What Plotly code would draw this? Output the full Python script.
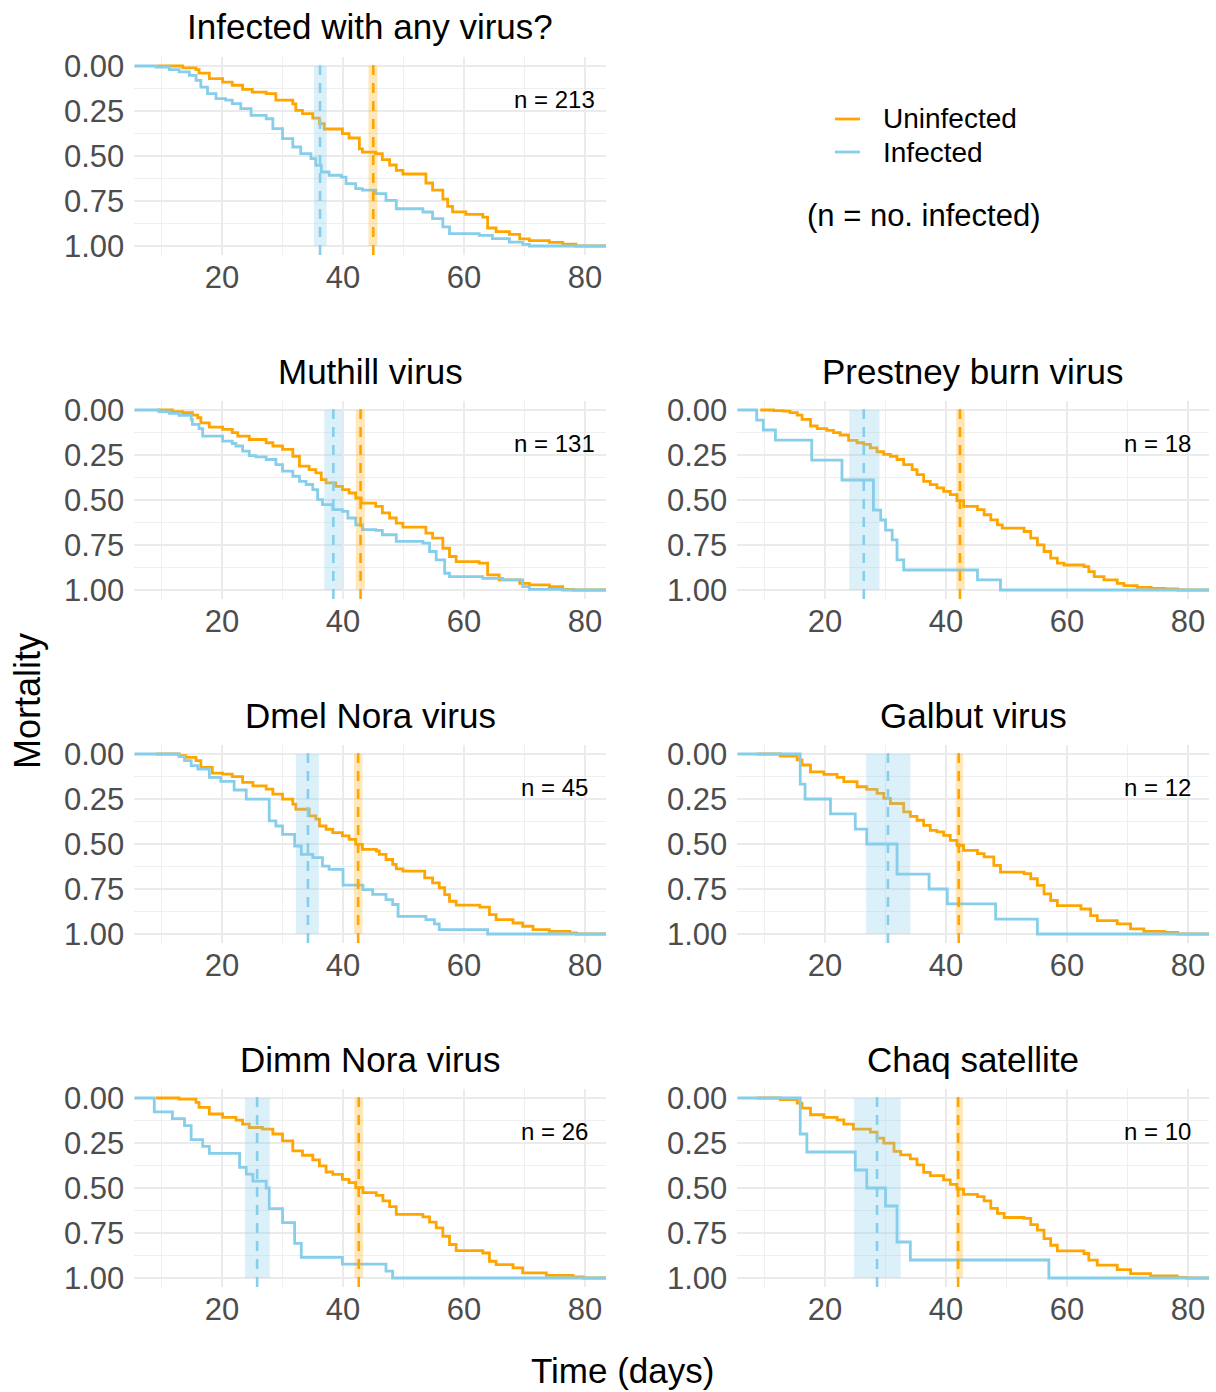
import plotly.graph_objects as go

# ---------------------------------------------------------------------------
# Kaplan-Meier style mortality curves (step functions), time in days
# ---------------------------------------------------------------------------
panel_titles = ["Infected with any virus?", "Muthill virus", "Prestney burn virus",
                "Dmel Nora virus", "Galbut virus", "Dimm Nora virus", "Chaq satellite"]
n_infected = [213, 131, 18, 45, 12, 26, 10]

# Infected with any virus?
any_unf_t = [9.3, 13.5, 15.7, 16.2, 17.9, 20.1, 21.7, 23.4, 25.0, 27.3, 28.9, 31.7, 32.2, 33.3, 35.0,
             36.1, 36.9, 39.9, 41.0, 42.7, 43.2, 45.4, 46.5, 47.7, 48.8, 49.9, 53.7, 54.8, 56.5, 57.3,
             58.1, 60.3, 63.1, 63.9, 65.3, 67.5, 69.2, 70.8, 74.1, 76.3, 78.5, 83.5]
any_unf_m = [0, 0.01, 0.02, 0.04, 0.07, 0.09, 0.107, 0.13, 0.145, 0.154, 0.19, 0.21, 0.246, 0.265, 0.29,
             0.32, 0.35, 0.376, 0.40, 0.46, 0.478, 0.487, 0.52, 0.55, 0.58, 0.60, 0.65, 0.69, 0.74, 0.78,
             0.81, 0.824, 0.84, 0.90, 0.92, 0.935, 0.96, 0.97, 0.98, 0.99, 1.0, 1.0]
any_inf_t = [5.5, 9.1, 11.3, 12.9, 14.6, 15.7, 16.5, 17.6, 19.0, 20.6, 21.7, 23.1, 24.8, 27.3, 28.4,
             30.0, 31.7, 33.0, 34.7, 35.5, 36.4, 37.7, 39.7, 40.5, 42.1, 43.2, 45.4, 47.1, 48.8, 53.2,
             54.8, 56.5, 57.6, 62.5, 64.7, 67.5, 69.7, 70.8, 83.5]
any_inf_m = [0, 0.006, 0.02, 0.033, 0.052, 0.08, 0.117, 0.154, 0.181, 0.19, 0.209, 0.237, 0.274, 0.293,
             0.348, 0.404, 0.45, 0.487, 0.515, 0.552, 0.589, 0.607, 0.617, 0.654, 0.681, 0.69, 0.709,
             0.746, 0.793, 0.811, 0.848, 0.894, 0.931, 0.941, 0.959, 0.978, 0.991, 1.0, 1.0]

# Muthill virus
mut_unf_t = [9.3, 11.8, 13.5, 15.1, 16.0, 16.5, 17.9, 20.1, 21.7, 22.6, 24.5, 27.3, 28.4, 30.0, 31.7,
             32.8, 34.4, 35.5, 36.4, 37.2, 38.8, 39.9, 41.0, 42.1, 43.0, 45.4, 46.5, 47.7, 48.8, 49.9,
             53.7, 54.8, 56.5, 57.6, 58.7, 62.5, 63.9, 65.8, 69.2, 70.8, 74.1, 76.3, 78.0, 83.5]
mut_unf_m = [0, 0.009, 0.015, 0.028, 0.043, 0.071, 0.095, 0.108, 0.126, 0.145, 0.164, 0.182, 0.2, 0.219,
             0.257, 0.312, 0.331, 0.349, 0.387, 0.405, 0.424, 0.442, 0.461, 0.489, 0.517, 0.535, 0.572,
             0.6, 0.628, 0.651, 0.684, 0.712, 0.768, 0.814, 0.842, 0.851, 0.916, 0.944, 0.963, 0.972,
             0.981, 0.996, 1.0, 1.0]
mut_inf_t = [5.5, 9.6, 11.3, 12.9, 14.9, 15.1, 16.2, 16.8, 20.1, 21.7, 22.3, 23.4, 24.5, 25.6, 27.3,
             28.9, 30.0, 31.7, 32.8, 33.9, 35.0, 35.8, 36.6, 38.3, 39.9, 40.8, 42.1, 43.2, 45.4, 46.5,
             48.8, 53.2, 54.3, 55.4, 56.8, 57.6, 63.1, 66.4, 69.7, 70.8, 76.3, 83.5]
mut_inf_m = [0, 0.009, 0.019, 0.030, 0.052, 0.08, 0.104, 0.145, 0.173, 0.186, 0.2, 0.229, 0.253, 0.26,
             0.275, 0.303, 0.34, 0.368, 0.396, 0.414, 0.442, 0.498, 0.526, 0.554, 0.563, 0.6, 0.638,
             0.665, 0.669, 0.693, 0.73, 0.74, 0.786, 0.833, 0.907, 0.926, 0.935, 0.944, 0.981, 0.996,
             1.0, 1.0]

# Prestney burn virus
pre_unf_t = [9.3, 11.5, 13.1, 14.2, 15.4, 16.2, 17.6, 18.7, 20.3, 21.4, 22.5, 23.9, 25.3, 26.4, 27.5,
             28.6, 29.7, 30.8, 31.9, 33.0, 34.4, 35.2, 36.3, 37.4, 38.5, 39.6, 40.7, 41.8, 42.9, 45.2,
             46.3, 47.4, 48.5, 49.3, 52.9, 54.0, 55.1, 56.2, 57.3, 58.4, 59.5, 62.8, 63.6, 64.5, 66.1,
             68.3, 69.4, 71.6, 73.9, 76.1, 78.3, 83.5]
pre_unf_m = [0, 0.004, 0.006, 0.015, 0.028, 0.052, 0.089, 0.104, 0.113, 0.126, 0.139, 0.169, 0.182,
             0.191, 0.21, 0.232, 0.247, 0.257, 0.275, 0.303, 0.331, 0.359, 0.396, 0.415, 0.433, 0.452,
             0.47, 0.504, 0.535, 0.554, 0.582, 0.61, 0.638, 0.656, 0.675, 0.712, 0.749, 0.786, 0.823,
             0.851, 0.861, 0.87, 0.898, 0.926, 0.944, 0.963, 0.976, 0.985, 0.991, 0.994, 1.0, 1.0]
pre_inf_t = [5.5, 8.7, 9.8, 11.8, 17.8, 22.8, 28.0, 29.2, 30.0, 31.1, 31.9, 33.0, 45.2, 49.0, 83.5]
pre_inf_m = [0, 0.056, 0.111, 0.167, 0.278, 0.389, 0.556, 0.611, 0.667, 0.722, 0.833, 0.889, 0.944,
             1.0, 1.0]

# Dmel Nora virus
dme_unf_t = [9.1, 12.9, 14.0, 15.7, 16.5, 18.4, 20.1, 21.7, 23.4, 25.1, 27.3, 28.4, 30.0, 31.7, 32.2,
             34.4, 35.5, 36.1, 37.2, 38.3, 39.9, 41.0, 42.1, 43.2, 45.5, 46.0, 47.1, 48.2, 48.8, 49.9,
             53.5, 54.8, 55.9, 56.8, 57.6, 58.7, 62.6, 64.2, 65.3, 68.1, 69.7, 71.4, 74.1, 77.5, 78.6,
             83.5]
dme_unf_m = [0, 0.009, 0.019, 0.037, 0.074, 0.106, 0.112, 0.126, 0.158, 0.177, 0.195, 0.223, 0.251,
             0.279, 0.307, 0.344, 0.362, 0.4, 0.418, 0.437, 0.455, 0.474, 0.502, 0.53, 0.539, 0.558,
             0.586, 0.613, 0.638, 0.651, 0.688, 0.716, 0.743, 0.781, 0.818, 0.84, 0.851, 0.892, 0.92,
             0.939, 0.957, 0.976, 0.985, 0.994, 1.0, 1.0]
dme_inf_t = [5.5, 12.9, 13.8, 14.9, 16.0, 17.9, 19.8, 22.0, 24.0, 27.8, 28.9, 30.0, 32.0, 33.1, 35.0,
             36.6, 37.7, 40.0, 43.3, 44.9, 47.1, 48.2, 49.1, 53.7, 55.1, 55.9, 63.9, 83.5]
dme_inf_m = [0, 0.015, 0.037, 0.065, 0.084, 0.13, 0.152, 0.2, 0.251, 0.372, 0.4, 0.446, 0.511, 0.558,
             0.576, 0.623, 0.641, 0.729, 0.753, 0.78, 0.809, 0.836, 0.902, 0.92, 0.944, 0.976, 1.0, 1.0]

# Galbut virus
gal_unf_t = [8.7, 12.6, 15.4, 16.2, 17.6, 19.8, 22.0, 23.1, 25.3, 26.9, 28.6, 29.7, 30.8, 33.0, 34.1,
             35.2, 36.3, 37.4, 38.5, 39.6, 40.7, 41.8, 42.9, 45.2, 46.3, 47.9, 49.0, 52.9, 54.0, 55.1,
             56.2, 57.3, 58.4, 62.3, 63.9, 65.0, 68.3, 70.5, 72.7, 76.1, 78.3, 83.5]
gal_unf_m = [0, 0.011, 0.033, 0.061, 0.099, 0.113, 0.13, 0.154, 0.182, 0.197, 0.219, 0.247, 0.275,
             0.322, 0.346, 0.368, 0.396, 0.424, 0.433, 0.452, 0.48, 0.507, 0.535, 0.554, 0.572, 0.619,
             0.656, 0.665, 0.693, 0.73, 0.777, 0.814, 0.842, 0.861, 0.898, 0.926, 0.944, 0.972, 0.985,
             0.991, 1.0, 1.0]
gal_inf_t = [5.5, 15.9, 16.7, 20.9, 25.0, 26.9, 31.9, 37.2, 40.2, 48.2, 55.1, 83.5]
gal_inf_m = [0, 0.167, 0.25, 0.333, 0.417, 0.5, 0.667, 0.75, 0.833, 0.917, 1.0, 1.0]

# Dimm Nora virus
dim_unf_t = [9.1, 12.9, 15.7, 16.2, 17.9, 20.1, 22.3, 23.4, 24.5, 26.7, 28.4, 30.0, 31.7, 33.3, 35.0,
             36.1, 37.2, 38.3, 39.9, 41.0, 42.1, 43.3, 45.5, 46.6, 47.7, 48.8, 53.2, 54.3, 55.4, 56.5,
             57.6, 58.7, 63.1, 64.2, 65.3, 68.1, 69.7, 73.6, 78.0, 79.7, 83.5]
dim_unf_m = [0, 0.006, 0.024, 0.052, 0.089, 0.108, 0.123, 0.145, 0.164, 0.173, 0.2, 0.238, 0.294,
             0.318, 0.344, 0.377, 0.411, 0.424, 0.452, 0.47, 0.498, 0.526, 0.541, 0.572, 0.604, 0.647,
             0.66, 0.69, 0.721, 0.768, 0.814, 0.848, 0.861, 0.907, 0.926, 0.944, 0.972, 0.985, 0.994,
             1.0, 1.0]
dim_inf_t = [5.5, 8.8, 11.8, 13.8, 14.9, 16.8, 17.9, 22.9, 24.0, 25.1, 27.3, 27.8, 30.0, 32.0, 33.1,
             39.9, 47.1, 48.2, 83.5]
dim_inf_m = [0, 0.077, 0.115, 0.154, 0.231, 0.269, 0.308, 0.385, 0.423, 0.462, 0.5, 0.615, 0.692,
             0.808, 0.885, 0.923, 0.962, 1.0, 1.0]

# Chaq satellite
chq_unf_t = [8.7, 12.6, 15.4, 16.2, 17.6, 19.8, 22.0, 23.1, 24.7, 27.5, 28.6, 29.7, 31.4, 32.5, 34.1,
             35.2, 36.3, 37.4, 39.6, 40.7, 41.8, 42.9, 45.2, 46.3, 47.4, 48.5, 49.6, 52.9, 54.0, 55.1,
             56.2, 57.3, 58.4, 62.8, 63.6, 65.0, 68.3, 70.5, 73.8, 78.2, 79.8, 83.5]
chq_unf_m = [0, 0.009, 0.028, 0.056, 0.093, 0.108, 0.121, 0.145, 0.173, 0.19, 0.223, 0.251, 0.297,
             0.316, 0.338, 0.372, 0.413, 0.431, 0.455, 0.48, 0.506, 0.535, 0.548, 0.572, 0.613, 0.641,
             0.664, 0.669, 0.703, 0.734, 0.781, 0.818, 0.849, 0.864, 0.901, 0.929, 0.954, 0.976, 0.989,
             0.996, 1.0, 1.0]
chq_inf_t = [5.5, 15.9, 17.0, 25.0, 26.9, 30.0, 31.9, 34.1, 57.0, 83.5]
chq_inf_m = [0, 0.2, 0.3, 0.4, 0.5, 0.6, 0.8, 0.9, 1.0, 1.0]

# Median time to death with confidence interval (days), per panel
inf_median = [36.2, 38.4, 26.4, 34.2, 30.4, 25.8, 28.6]
inf_lower = [35.2, 36.9, 24.0, 32.2, 26.8, 23.8, 24.8]
inf_upper = [37.3, 39.9, 29.0, 36.0, 34.1, 27.9, 32.5]
unf_median = [45.0, 42.9, 42.3, 42.5, 42.1, 42.6, 42.0]
unf_lower = [44.2, 42.1, 41.7, 41.8, 41.6, 41.9, 41.6]
unf_upper = [45.7, 43.6, 43.1, 43.2, 42.8, 43.3, 42.8]

x_ticks = [20, 40, 60, 80]
y_ticks = [0, 0.25, 0.5, 0.75, 1.0]
y_tick_text = ["0.00", "0.25", "0.50", "0.75", "1.00"]
legend_labels = ["Uninfected", "Infected"]

curves = [
    (any_unf_t, any_unf_m, any_inf_t, any_inf_m),
    (mut_unf_t, mut_unf_m, mut_inf_t, mut_inf_m),
    (pre_unf_t, pre_unf_m, pre_inf_t, pre_inf_m),
    (dme_unf_t, dme_unf_m, dme_inf_t, dme_inf_m),
    (gal_unf_t, gal_unf_m, gal_inf_t, gal_inf_m),
    (dim_unf_t, dim_unf_m, dim_inf_t, dim_inf_m),
    (chq_unf_t, chq_unf_m, chq_inf_t, chq_inf_m),
]

# ---------------------------------------------------------------------------
# Layout geometry (pixels on a 1216 x 1392 canvas)
# ---------------------------------------------------------------------------
W, H = 1216, 1392
ORANGE = "#FFA500"
BLUE = "#87CEEB"
FONT = "Liberation Sans, Arial, sans-serif"
LW = 2.8

col_x = {"L": (134.3, 606.2), "R": (737.3, 1209.2)}
row_y = [(57, 255), (401, 599), (745, 943), (1089, 1287)]
panel_pos = [(0, "L"), (1, "L"), (1, "R"), (2, "L"), (2, "R"), (3, "L"), (3, "R")]

fig = go.Figure()
shapes, annotations = [], []
layout_axes = {}

for k, ((unf_t, unf_m, inf_t, inf_m), (row, col)) in enumerate(zip(curves, panel_pos)):
    idx = "" if k == 0 else str(k + 1)
    xa, ya = "x" + idx, "y" + idx
    x0, x1 = col_x[col]
    ytop, ybot = row_y[row]

    fig.add_trace(go.Scatter(
        x=unf_t, y=unf_m, mode="lines", name=legend_labels[0], legendgroup="unf",
        showlegend=False, line=dict(color=ORANGE, width=LW, shape="hv"),
        xaxis=xa, yaxis=ya, hoverinfo="skip"))
    fig.add_trace(go.Scatter(
        x=inf_t, y=inf_m, mode="lines", name=legend_labels[1], legendgroup="inf",
        showlegend=False, line=dict(color=BLUE, width=LW, shape="hv"),
        xaxis=xa, yaxis=ya, hoverinfo="skip"))

    # confidence bands and median lines
    for lo, hi, med, col_rgb, col_line in [
        (inf_lower[k], inf_upper[k], inf_median[k], "rgba(135,206,235,0.30)", BLUE),
        (unf_lower[k], unf_upper[k], unf_median[k], "rgba(255,165,0,0.27)", ORANGE),
    ]:
        shapes.append(dict(type="rect", xref=xa, yref=ya, x0=lo, x1=hi, y0=0, y1=1,
                           fillcolor=col_rgb, line=dict(width=0), layer="above"))
        shapes.append(dict(type="line", xref=xa, yref=ya + " domain", x0=med, x1=med, y0=0, y1=1,
                           line=dict(color=col_line, width=2.6, dash="10px,8px"), layer="above"))

    axis_common = dict(showline=False, zeroline=False, ticks="", automargin=False,
                       gridcolor="#EBEBEB", gridwidth=1.8,
                       tickfont=dict(family=FONT, size=31, color="#4D4D4D"))
    layout_axes["xaxis" + idx] = dict(
        domain=[x0 / W, x1 / W], anchor=ya, range=[5.5, 83.5],
        tickmode="array", tickvals=x_ticks, ticktext=[str(v) for v in x_ticks],
        minor=dict(tickmode="array", tickvals=[10, 30, 50, 70], showgrid=True,
                   gridcolor="#EFEFEF", gridwidth=1),
        ticklabelstandoff=1, **axis_common)
    layout_axes["yaxis" + idx] = dict(
        domain=[1 - ybot / H, 1 - ytop / H], anchor=xa, range=[1.05, -0.05],
        tickmode="array", tickvals=y_ticks, ticktext=y_tick_text,
        minor=dict(tickmode="array", tickvals=[0.125, 0.375, 0.625, 0.875], showgrid=True,
                   gridcolor="#EFEFEF", gridwidth=1),
        ticklabelstandoff=9, **axis_common)

    # panel title
    annotations.append(dict(text=panel_titles[k], xref="paper", yref="paper",
                            x=(x0 + x1) / 2 / W, y=1 - (ytop - 30) / H,
                            xanchor="center", yanchor="middle", showarrow=False,
                            font=dict(family=FONT, size=35, color="black")))
    # number infected
    annotations.append(dict(text=f"n = {n_infected[k]}", xref=xa, yref=ya, x=75, y=0.185,
                            xanchor="center", yanchor="middle", showarrow=False,
                            font=dict(family=FONT, size=24, color="black")))

# legend keys (drawn in the empty top-right cell)
legend_colors = [ORANGE, BLUE]
legend_rows_px = [119, 152]
for label, colr, ypx in zip(legend_labels, legend_colors, legend_rows_px):
    shapes.append(dict(type="line", xref="paper", yref="paper", x0=835 / W, x1=860 / W,
                       y0=1 - ypx / H, y1=1 - ypx / H, line=dict(color=colr, width=LW)))
    annotations.append(dict(text=label, xref="paper", yref="paper", x=881 / W, y=1 - ypx / H,
                            xanchor="left", yanchor="middle", showarrow=False,
                            font=dict(family=FONT, size=28, color="black")))

# shared axis titles and legend note
annotations += [
    dict(text="Time (days)", xref="paper", yref="paper", x=622 / W, y=1 - 1370 / H,
         xanchor="center", yanchor="middle", showarrow=False,
         font=dict(family=FONT, size=35, color="black")),
    dict(text="Mortality", xref="paper", yref="paper", x=27 / W, y=1 - 701 / H, textangle=-90,
         xanchor="center", yanchor="middle", showarrow=False,
         font=dict(family=FONT, size=36, color="black")),
    dict(text="(n = no. infected)", xref="paper", yref="paper", x=924 / W, y=1 - 216 / H,
         xanchor="center", yanchor="middle", showarrow=False,
         font=dict(family=FONT, size=31, color="black")),
]

fig.update_layout(
    width=W, height=H, margin=dict(l=0, r=0, t=0, b=0),
    paper_bgcolor="white", plot_bgcolor="white", showlegend=False,
    shapes=shapes, annotations=annotations,
    **layout_axes,
)

fig.write_html("out.html")
